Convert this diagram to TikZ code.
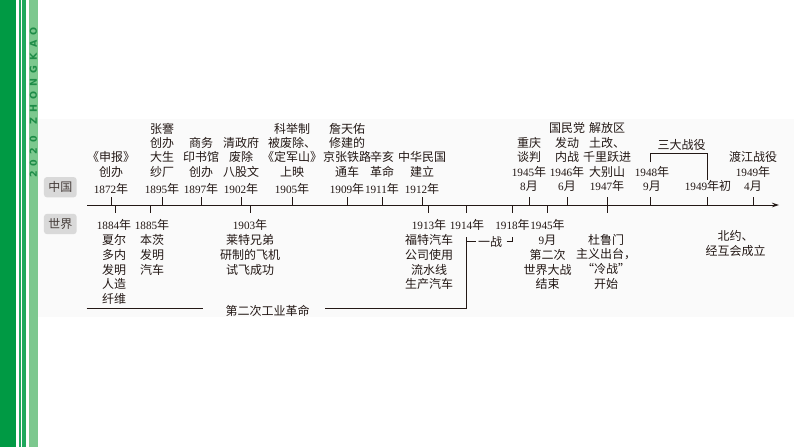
\documentclass[tikz,border=0pt]{standalone}
\usepackage{fontspec}
\setmainfont{Noto Sans CJK SC}
\newfontfamily\numfont{Liberation Serif}
\newfontfamily\latfont{DejaVu Sans}
\usetikzlibrary{arrows.meta}
\definecolor{ink}{HTML}{231815}
\definecolor{gdark}{HTML}{009A44}
\definecolor{gmid}{HTML}{1FA85C}
\definecolor{glight}{HTML}{7CC88E}
\definecolor{gtext}{HTML}{1E8C48}
\definecolor{panel}{HTML}{FAFAFA}
\definecolor{boxgray}{HTML}{D9D9D9}
\newcommand\yr[1]{{\numfont\fontsize{11.2}{12}\selectfont #1}}
\newcommand\spc{\hspace{5.2pt}}
\newcommand\lines[5]{%
  \foreach \t [count=\i] in {#5} {
    \node[lbl, name=#1\i] at (#2, {#3+(\i-1)*#4}) {\t};
  }%
}
\tikzset{
  lbl/.style={font=\fontsize{12}{12}\selectfont, text=ink, inner sep=0pt, anchor=base},
  tickline/.style={line width=0.8pt, draw=ink},
  axisline/.style={line width=0.9pt, draw=ink, -{Stealth[length=7pt,width=4.5pt]}},
  brline/.style={line width=0.8pt, draw=ink},
  catbox/.style={fill=boxgray, rounded corners=3pt, minimum width=32.7pt, minimum height=20.3pt,
    inner sep=0pt, font=\fontsize{12}{12}\selectfont, text=ink!85}
}
\begin{document}
\begin{tikzpicture}[x=1pt, y=-1pt]
\useasboundingbox (0,0) rectangle (794,447);
\fill[white] (0,0) rectangle (794,447);
% left green stripes
\fill[gdark] (0,0) rectangle (16,447);
\fill[gmid] (18.5,0) rectangle (20.5,447);
\fill[gmid] (22,0) rectangle (26,447);
\fill[glight] (29,0) rectangle (38,447);
\node[rotate=90, inner sep=0pt, text=gtext, font=\latfont\bfseries\fontsize{9.5}{10}\selectfont] (brand) at (33.5,102.5)
  {2\spc0\spc2\spc0\hspace{11pt}Z\spc H\spc O\spc N\spc G\spc K\spc A\spc O};
% panel
\fill[panel] (38,119) rectangle (794,317);
% category boxes
\node[catbox] (cn) at (60.3,187.2) {中国};
\node[catbox] (wd) at (60.3,224) {世界};
% axis
\coordinate (ax0) at (87,205);
\coordinate (ax1) at (779,205);
\draw[axisline] (ax0) -- (ax1);
% ticks above
\foreach \x in {111,162,201,241,292,347,382,422,529,567,650,707,753}
  \draw[tickline] (\x,197) -- (\x,205);
% ticks below
\foreach \x in {115,150,250,428,466.7,512.5,547}
  \draw[tickline] (\x,205) -- (\x,213);
\draw[tickline] (607,197) -- (607,213);
% China labels (before 1945)
\lines{ca}{111}{161.7}{14.3}{《申报》,创办}
\lines{cb}{162}{133.1}{14.3}{张謇,创办,大生,纱厂}
\lines{cc}{201}{147.4}{14.3}{商务,印书馆,创办}
\lines{cd}{241}{147.4}{14.3}{清政府,废除,八股文}
\lines{ce}{292}{133.1}{14.3}{科举制,被废除、,《定军山》,上映}
\lines{cf}{347}{133.1}{14.3}{詹天佑,修建的,京张铁路,通车}
\lines{cg}{382}{161.7}{14.3}{辛亥,革命}
\lines{ch}{422}{161.7}{14.3}{中华民国,建立}
\node[lbl] (ya) at (111,193) {\yr{1872}年};
\node[lbl] (yb) at (162,193) {\yr{1895}年};
\node[lbl] (yc) at (201,193) {\yr{1897}年};
\node[lbl] (yd) at (241,193) {\yr{1902}年};
\node[lbl] (ye) at (292,193) {\yr{1905}年};
\node[lbl] (yf) at (347,193) {\yr{1909}年};
\node[lbl] (yg) at (382,193) {\yr{1911}年};
\node[lbl] (yh) at (422,193) {\yr{1912}年};
% China labels (after 1945)
\lines{ci}{529}{147}{14.5}{重庆,谈判,\yr{1945}年,\yr{8}月}
\lines{cj}{567}{132.5}{14.5}{国民党,发动,内战,\yr{1946}年,\yr{6}月}
\lines{ck}{607}{132.5}{14.5}{解放区,土改、,千里跃进,大别山,\yr{1947}年}
\lines{cl}{652}{176}{14.5}{\yr{1948}年,\yr{9}月}
\lines{cm}{708}{190.5}{14.5}{\yr{1949}年初}
\lines{cn}{753}{161.5}{14.5}{渡江战役,\yr{1949}年,\yr{4}月}
% 三大战役 bracket
\draw[brline] (650,162) |- (707,153.3) -- (707,180);
\node[lbl] (sdzy) at (681.7,149.5) {三大战役};
% World labels
\lines{wa}{114}{229.5}{14.85}{\yr{1884}年,夏尔,多内,发明,人造,纤维}
\lines{wb}{152}{229.5}{14.85}{\yr{1885}年,本茨,发明,汽车}
\lines{wc}{250}{229.5}{14.85}{\yr{1903}年,莱特兄弟,研制的飞机,试飞成功}
\lines{wd}{429}{229.5}{14.85}{\yr{1913}年,福特汽车,公司使用,流水线,生产汽车}
\lines{we}{467}{229.5}{14.85}{\yr{1914}年}
\lines{wf}{512.5}{229.5}{14.85}{\yr{1918}年}
\lines{wg}{547.5}{229.5}{14.85}{\yr{1945}年,\yr{9}月,第二次,世界大战,结束}
\lines{wh}{606}{244}{14.8}{杜鲁门,主义出台，,“冷战”,开始}
\lines{wi}{735.5}{240.5}{15}{北约、,经互会成立}
% 一战 bracket
\node[lbl] (yz) at (490,246) {一战};
\draw[brline] (466.7,241.7) -- (476,241.7);
\draw[brline] (506.7,241.7) -| (512.3,236.7);
% 第二次工业革命
\node[lbl] (gy) at (267.5,315.6) {第二次工业革命};
\draw[brline] (86.7,308.3) -- (203,308.3);
\draw[brline] (325,308.3) -- (466.7,308.3) -- (466.7,236.7);
\end{tikzpicture}
\end{document}
